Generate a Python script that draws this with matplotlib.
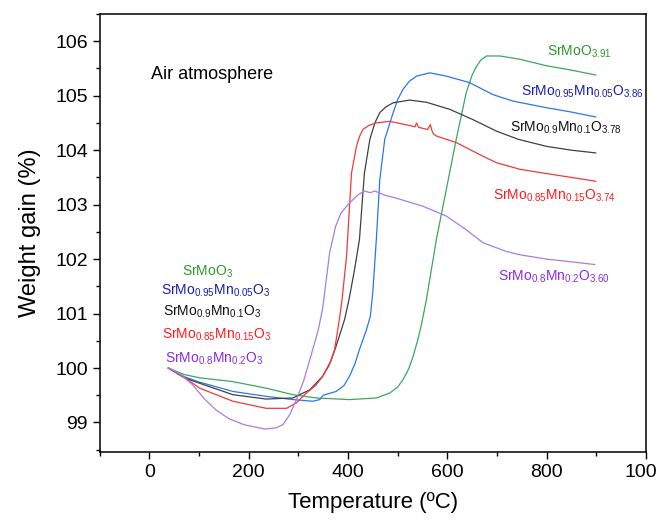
import matplotlib
matplotlib.use("Agg")
import matplotlib.pyplot as plt
from matplotlib.ticker import MultipleLocator

plt.rcParams['font.family'] = ['Liberation Sans', 'DejaVu Sans']
plt.rcParams['mathtext.fontset'] = 'custom'
plt.rcParams['mathtext.rm'] = 'Liberation Sans'
plt.rcParams['mathtext.it'] = 'Liberation Sans'

# SrMoO3
t_mo = [38, 70, 101, 168, 235, 289, 336, 403, 457, 484, 500, 511, 522, 531, 540, 548, 558,
        578, 598, 618, 638, 650, 659, 668, 679, 706, 746, 800, 850, 899]
w_mo = [100.0, 99.88, 99.82, 99.75, 99.63, 99.51, 99.45, 99.42, 99.45, 99.54, 99.65, 99.79,
        99.98, 100.21, 100.5, 100.8, 101.26, 102.36, 103.28, 104.20, 105.05, 105.38, 105.54,
        105.66, 105.73, 105.73, 105.67, 105.55, 105.47, 105.38]

# SrMo0.95Mn0.05O3
t_mn05 = [38, 70, 101, 168, 235, 289, 329, 343, 350, 376, 392, 403, 414, 423, 437, 445,
          450, 457, 464, 474, 491, 500, 511, 524, 538, 565, 598, 645, 692, 733, 800, 850, 899]
w_mn05 = [100.0, 99.84, 99.74, 99.57, 99.48, 99.42, 99.39, 99.42, 99.50, 99.57, 99.68,
          99.85, 100.08, 100.34, 100.7, 100.95, 101.4, 102.36, 103.46, 104.20, 104.69,
          104.93, 105.12, 105.27, 105.36, 105.42, 105.36, 105.24, 105.02, 104.90, 104.78,
          104.70, 104.61]

# SrMo0.9Mn0.1O3
t_mn10 = [38, 70, 101, 168, 235, 289, 323, 349, 365, 376, 393, 402, 413, 423, 433, 444,
          454, 464, 477, 491, 524, 558, 605, 652, 699, 743, 800, 850, 899]
w_mn10 = [100.0, 99.82, 99.72, 99.51, 99.43, 99.45, 99.60, 99.85, 100.12, 100.40, 100.89,
          101.26, 101.8, 102.36, 103.58, 104.20, 104.50, 104.69, 104.80, 104.87, 104.92,
          104.88, 104.75, 104.56, 104.35, 104.20, 104.07, 104.00, 103.95]

# SrMo0.85Mn0.15O3
t_mn15 = [38, 67, 101, 168, 235, 276, 296, 316, 335, 349, 362, 373, 383, 388, 397, 407,
          417, 423, 430, 443, 457, 484, 520, 535, 538, 542, 560, 566, 569, 572, 578, 618,
          665, 699, 746, 800, 850, 899]
w_mn15 = [100.0, 99.85, 99.63, 99.39, 99.26, 99.26, 99.36, 99.54, 99.68, 99.85, 100.05,
          100.34, 100.92, 101.26, 102.05, 103.58, 104.07, 104.25, 104.38, 104.46, 104.50,
          104.53, 104.46, 104.43, 104.50, 104.42, 104.38, 104.47, 104.36, 104.30, 104.26,
          104.14, 103.92, 103.77, 103.65, 103.57, 103.50, 103.43]

# SrMo0.8Mn0.2O3
t_mn20 = [38, 60, 87, 110, 134, 160, 190, 232, 255, 269, 283, 296, 310, 323, 340, 349,
          363, 375, 386, 403, 420, 433, 445, 454, 475, 497, 551, 598, 638, 672, 719, 746,
          800, 850, 897]
w_mn20 = [100.0, 99.9, 99.69, 99.44, 99.23, 99.07, 98.96, 98.88, 98.90, 98.96, 99.15,
          99.42, 99.75, 100.15, 100.7, 101.1, 102.12, 102.6, 102.85, 103.03, 103.18, 103.25,
          103.22, 103.25, 103.17, 103.12, 102.97, 102.79, 102.54, 102.30, 102.14, 102.08,
          102.0, 101.95, 101.90]

series = [
    (t_mo, w_mo, '#3aa85c', '#2a9a2a'),
    (t_mn05, w_mn05, '#2a78e8', '#1c1cb0'),
    (t_mn10, w_mn10, '#404040', '#111111'),
    (t_mn15, w_mn15, '#f03a3a', '#ff1a1a'),
    (t_mn20, w_mn20, '#a97be6', '#8a2be2'),
]

start_labels = [r'SrMoO$_3$',
                r'SrMo$_{0.95}$Mn$_{0.05}$O$_3$',
                r'SrMo$_{0.9}$Mn$_{0.1}$O$_3$',
                r'SrMo$_{0.85}$Mn$_{0.15}$O$_3$',
                r'SrMo$_{0.8}$Mn$_{0.2}$O$_3$']
start_pos = [(117, 101.77), (133, 101.42), (127, 101.03), (135, 100.61), (131, 100.17)]

end_labels = [r'SrMoO$_{3.91}$',
              r'SrMo$_{0.95}$Mn$_{0.05}$O$_{3.86}$',
              r'SrMo$_{0.9}$Mn$_{0.1}$O$_{3.78}$',
              r'SrMo$_{0.85}$Mn$_{0.15}$O$_{3.74}$',
              r'SrMo$_{0.8}$Mn$_{0.2}$O$_{3.60}$']
end_pos = [(865, 105.81), (873, 105.08), (839, 104.42), (815, 103.17), (815, 101.68)]

fig = plt.figure(figsize=(6.57, 5.2), dpi=100)
ax = fig.add_axes([0.152, 0.131, 0.831, 0.842])

for (t, w, lc, tc), sl, sp, el, ep in zip(series, start_labels, start_pos, end_labels, end_pos):
    ax.plot(t, w, color=lc, lw=0.9)
    ax.text(sp[0], sp[1], sl, color=tc, fontsize=10, ha='center', va='center')
    ax.text(ep[0], ep[1], el, color=tc, fontsize=10, ha='center', va='center')

ax.text(4, 105.39, 'Air atmosphere', fontsize=13, ha='left', va='center')

ax.set_xlim(-100, 1000)
ax.set_ylim(98.46, 106.5)
ax.xaxis.set_major_locator(MultipleLocator(200))
ax.xaxis.set_minor_locator(MultipleLocator(100))
ax.yaxis.set_major_locator(MultipleLocator(1))
ax.yaxis.set_minor_locator(MultipleLocator(0.5))
ax.tick_params(which='both', direction='out', top=False, right=False, width=1.0,
               labelsize=14)
ax.tick_params(which='major', length=5)
ax.tick_params(which='minor', length=3)
for s in ax.spines.values():
    s.set_linewidth(1.1)

ax.set_xlabel('Temperature (ºC)', fontsize=16, labelpad=8)
ax.set_ylabel('Weight gain (%)', fontsize=17, labelpad=10)

fig.savefig('out.png', dpi=100)
